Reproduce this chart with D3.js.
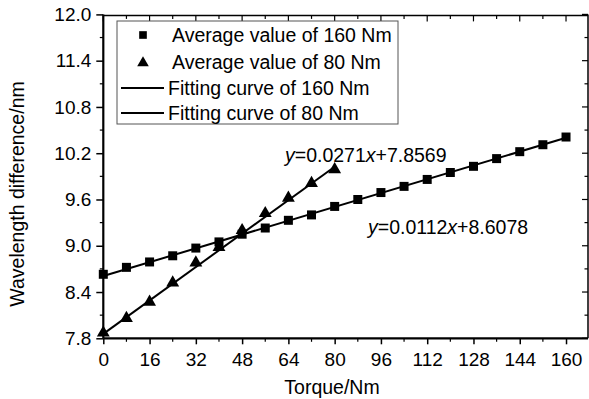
<!DOCTYPE html>
<html>
<head>
<meta charset="utf-8">
<script src="https://cdn.jsdelivr.net/npm/d3@7"></script>
<style>
  body { margin: 0; background: #fff; }
  svg { display: block; font-family: "Liberation Sans", Arial, sans-serif; }
</style>
</head>
<body>
<div class="wrapper"></div>
<script>
// torque values (Nm)
const torque160 = [0, 8, 16, 24, 32, 40, 48, 56, 64, 72, 80, 88, 96, 104, 112, 120, 128, 136, 144, 152, 160]
const avg160 = [8.63, 8.72, 8.79, 8.87, 8.97, 9.05, 9.15, 9.23, 9.33, 9.40, 9.51, 9.60, 9.69, 9.77, 9.86, 9.95, 10.03, 10.13, 10.22, 10.31, 10.41]
const torque80 = [0, 8, 16, 24, 32, 40, 48, 56, 64, 72, 80]
const avg80 = [7.87, 8.06, 8.27, 8.52, 8.78, 8.98, 9.20, 9.42, 9.62, 9.81, 9.99]
const fit160 = { slope: 0.0112, intercept: 8.6078, from: 0, to: 160 }
const fit80 = { slope: 0.0271, intercept: 7.8569, from: 0, to: 80 }
const xTicks = [0, 16, 32, 48, 64, 80, 96, 112, 128, 144, 160]
const yTicks = [7.8, 8.4, 9.0, 9.6, 10.2, 10.8, 11.4, 12.0]
const legendLabels = ['Average value of 160 Nm', 'Average value of 80 Nm', 'Fitting curve of 160 Nm', 'Fitting curve of 80 Nm']

const width = 589, height = 399
const pLeft = 103.3, pRight = 588, pTop = 14.4, pBottom = 338.3
const fs = 19.5

const svg = d3.select('.wrapper')
  .append('svg')
  .attr('width', width)
  .attr('height', height)

const x = d3.scaleLinear().domain([0, 160]).range([pLeft, pLeft + 160 * 2.892])
const y = d3.scaleLinear().domain([7.8, 12.0]).range([pBottom, pTop])

// frame (top and right)
svg.append('line').attr('x1', pLeft).attr('x2', pRight).attr('y1', pTop + 1).attr('y2', pTop + 1)
  .attr('stroke', '#000').attr('stroke-width', 1.5)
svg.append('line').attr('x1', pRight).attr('x2', pRight).attr('y1', pTop).attr('y2', pBottom)
  .attr('stroke', '#000').attr('stroke-width', 1.5)

// minor ticks
const xMinor = d3.range(8, 168, 16)
const yMinor = d3.range(8.1, 12.0, 0.6)

const g = svg.append('g')

// bottom axis
const xAxis = svg.append('g')
  .attr('transform', `translate(0,${pBottom})`)
  .call(d3.axisBottom(x).tickValues(xTicks).tickFormat(d3.format('d')).tickSize(6).tickPadding(8))
xAxis.select('.domain').attr('d', `M${pLeft},0H${pRight}`).attr('stroke-width', 2.2)
xAxis.selectAll('text').attr('font-size', 19).attr('fill', '#000')
xAxis.selectAll('.tick line').attr('stroke-width', 1.5)
xAxis.selectAll('.minor').data(xMinor).enter().append('line')
  .attr('x1', d => x(d)).attr('x2', d => x(d)).attr('y1', 0).attr('y2', 3.5)
  .attr('stroke', '#000').attr('stroke-width', 1.2)

// top ticks (inward)
svg.selectAll('.ttick').data(xTicks.concat(xMinor)).enter().append('line')
  .attr('x1', d => x(d)).attr('x2', d => x(d))
  .attr('y1', pTop + 1).attr('y2', d => pTop + 1 + (xTicks.includes(d) ? 6 : 3.5))
  .attr('stroke', '#000').attr('stroke-width', 1.2)

// left axis
const yAxis = svg.append('g')
  .attr('transform', `translate(${pLeft},0)`)
  .call(d3.axisLeft(y).tickValues(yTicks).tickFormat(d3.format('.1f')).tickSize(7).tickPadding(5))
yAxis.select('.domain').attr('d', `M0,${pBottom}V${pTop}`).attr('stroke-width', 2.2)
yAxis.selectAll('text').attr('font-size', 19).attr('fill', '#000')
yAxis.selectAll('.tick line').attr('stroke-width', 1.5)
yAxis.selectAll('.minor').data(yMinor).enter().append('line')
  .attr('x1', 0).attr('x2', -3.5).attr('y1', d => y(d)).attr('y2', d => y(d))
  .attr('stroke', '#000').attr('stroke-width', 1.2)

// right ticks (inward)
svg.selectAll('.rtick').data(yTicks.concat(yMinor)).enter().append('line')
  .attr('x1', pRight).attr('x2', d => pRight - (yTicks.includes(d) ? 6 : 3.5))
  .attr('y1', d => y(d)).attr('y2', d => y(d))
  .attr('stroke', '#000').attr('stroke-width', 1.2)

// fitting lines
const fitLine = f => g.append('line')
  .attr('x1', x(f.from)).attr('y1', y(f.slope * f.from + f.intercept))
  .attr('x2', x(f.to)).attr('y2', y(f.slope * f.to + f.intercept))
  .attr('stroke', '#000').attr('stroke-width', 2)
fitLine(fit160)
fitLine(fit80)

// markers
const square = d3.symbol().type(d3.symbolSquare).size(81)
const triangle = d3.symbol().type(d3.symbolTriangle).size(72)

g.selectAll('.sq').data(torque160).enter().append('path')
  .attr('d', square)
  .attr('transform', (d, i) => `translate(${x(d)},${y(avg160[i])})`)
g.selectAll('.tri').data(torque80).enter().append('path')
  .attr('d', triangle)
  .attr('transform', (d, i) => `translate(${x(d)},${y(avg80[i])})`)

// legend
const lg = svg.append('g')
lg.append('rect').attr('x', 117).attr('y', 21).attr('width', 281).attr('height', 103)
  .attr('fill', '#fff').attr('stroke', '#555').attr('stroke-width', 1)
const rowY = [35, 62, 88, 113]
lg.append('path').attr('d', square).attr('transform', `translate(143,${rowY[0]}) scale(0.85)`)
lg.append('path').attr('d', triangle).attr('transform', `translate(143,${rowY[1] + 1}) scale(0.9)`)
lg.append('line').attr('x1', 121).attr('x2', 164).attr('y1', rowY[2]).attr('y2', rowY[2]).attr('stroke', '#000').attr('stroke-width', 2)
lg.append('line').attr('x1', 121).attr('x2', 164).attr('y1', rowY[3]).attr('y2', rowY[3]).attr('stroke', '#000').attr('stroke-width', 2)
lg.selectAll('.lt').data(legendLabels).enter().append('text')
  .attr('x', (d, i) => i < 2 ? 172 : 168)
  .attr('y', (d, i) => rowY[i])
  .attr('dy', '0.35em')
  .attr('font-size', fs)
  .text(d => d)

// equations
function equation(px, py, f) {
  const t = svg.append('text').attr('x', px).attr('y', py).attr('font-size', fs).attr('dy', '0.35em')
  t.append('tspan').attr('font-style', 'italic').text('y')
  t.append('tspan').text(`=${f.slope}`)
  t.append('tspan').attr('font-style', 'italic').text('x')
  t.append('tspan').text(`+${f.intercept}`)
}
equation(285, 155, fit80)
equation(368, 227, fit160)

// axis titles
svg.append('text').attr('x', 332).attr('y', 387).attr('dy', '0.35em')
  .attr('text-anchor', 'middle').attr('font-size', fs).text('Torque/Nm')
svg.append('text').attr('transform', 'translate(17.5,194) rotate(-90)').attr('dy', '0.35em')
  .attr('text-anchor', 'middle').attr('font-size', fs).text('Wavelength difference/nm')
</script>
</body>
</html>
